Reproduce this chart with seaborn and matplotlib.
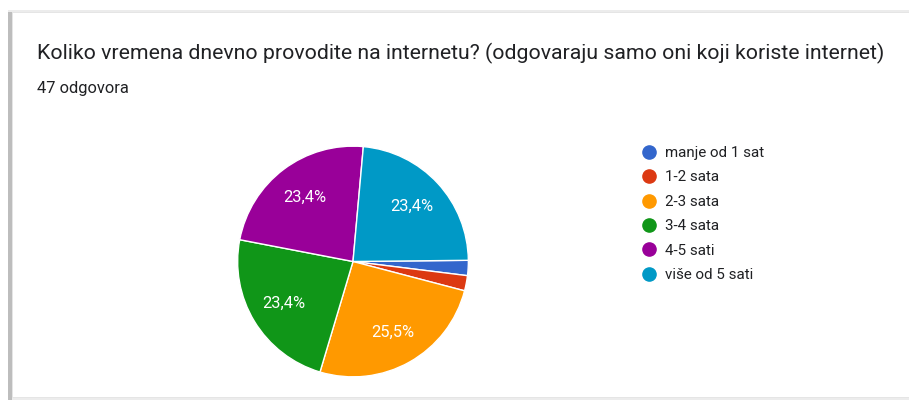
import matplotlib
matplotlib.use("Agg")
import matplotlib.pyplot as plt
from matplotlib.lines import Line2D
from matplotlib.patches import Rectangle
import seaborn as sns

# ── Data ────────────────────────────────────────────────────────────────────
categories = ["manje od 1 sat", "1-2 sata", "2-3 sata", "3-4 sata", "4-5 sati", "više od 5 sati"]
counts = [1, 1, 12, 11, 11, 11]
title = "Koliko vremena dnevno provodite na internetu? (odgovaraju samo oni koji koriste internet)"
subtitle = "47 odgovora"

colors = sns.color_palette(["#3366cc", "#dc3912", "#ff9900", "#109618", "#990099", "#0099c6"])

sns.set_theme(style="white")
plt.rcParams["font.family"] = ["Roboto", "DejaVu Sans"]

W, H = 909, 400
fig = plt.figure(figsize=(W / 100, H / 100), dpi=100)
fig.patch.set_facecolor("white")


def px(x, y, w, h):
    """pixel box (top-left origin) -> figure fraction"""
    return [x / W, 1 - (y + h) / H, w / W, h / H]


def card(x, y, w, h, **kw):
    b = px(x, y, w, h)
    fig.patches.append(Rectangle((b[0], b[1]), b[2], b[3], transform=fig.transFigure,
                                 zorder=-5, **kw))


# card with soft shadow, darker on the left side
card(8, 10, 940, 390, facecolor="#ececec", edgecolor="none")
card(8, 12, 4, 388, facecolor="#bdbdbd", edgecolor="none")
card(12, 12, 940, 385, facecolor="white", edgecolor="#e2e2e2", lw=0.6)

fig.text(37 / W, 1 - 53 / H, title, fontsize=15.35, color="#202124", va="center", ha="left")
fig.text(37 / W, 1 - 89 / H, subtitle, fontsize=11.9, color="#202124", va="center", ha="left")

# pie
ax = fig.add_axes(px(236.5, 145, 233, 233))
wedges, _, autotexts = ax.pie(
    counts, colors=colors, startangle=0.6, counterclock=False,
    autopct=lambda p: f"{p:.1f}%".replace(".", ",") if p > 5 else "",
    pctdistance=0.70, wedgeprops=dict(edgecolor="white", linewidth=1),
    textprops=dict(color="white", fontsize=11.8),
)
ax.set_xlim(-1.01, 1.01)
ax.set_ylim(-1.01, 1.01)
ax.set_aspect("equal")

# legend
handles = [Line2D([0], [0], marker="o", linestyle="none", markersize=9.5,
                  markerfacecolor=c, markeredgecolor=c) for c in colors]
fig.legend(handles, categories, loc="upper left", bbox_to_anchor=(641 / W, 1 - 146 / H),
           frameon=False, fontsize=10.9, labelspacing=0.69, handletextpad=0.6,
           handlelength=1.0, borderaxespad=0, borderpad=0, labelcolor="#202124")

fig.savefig("out.png", dpi=100)
